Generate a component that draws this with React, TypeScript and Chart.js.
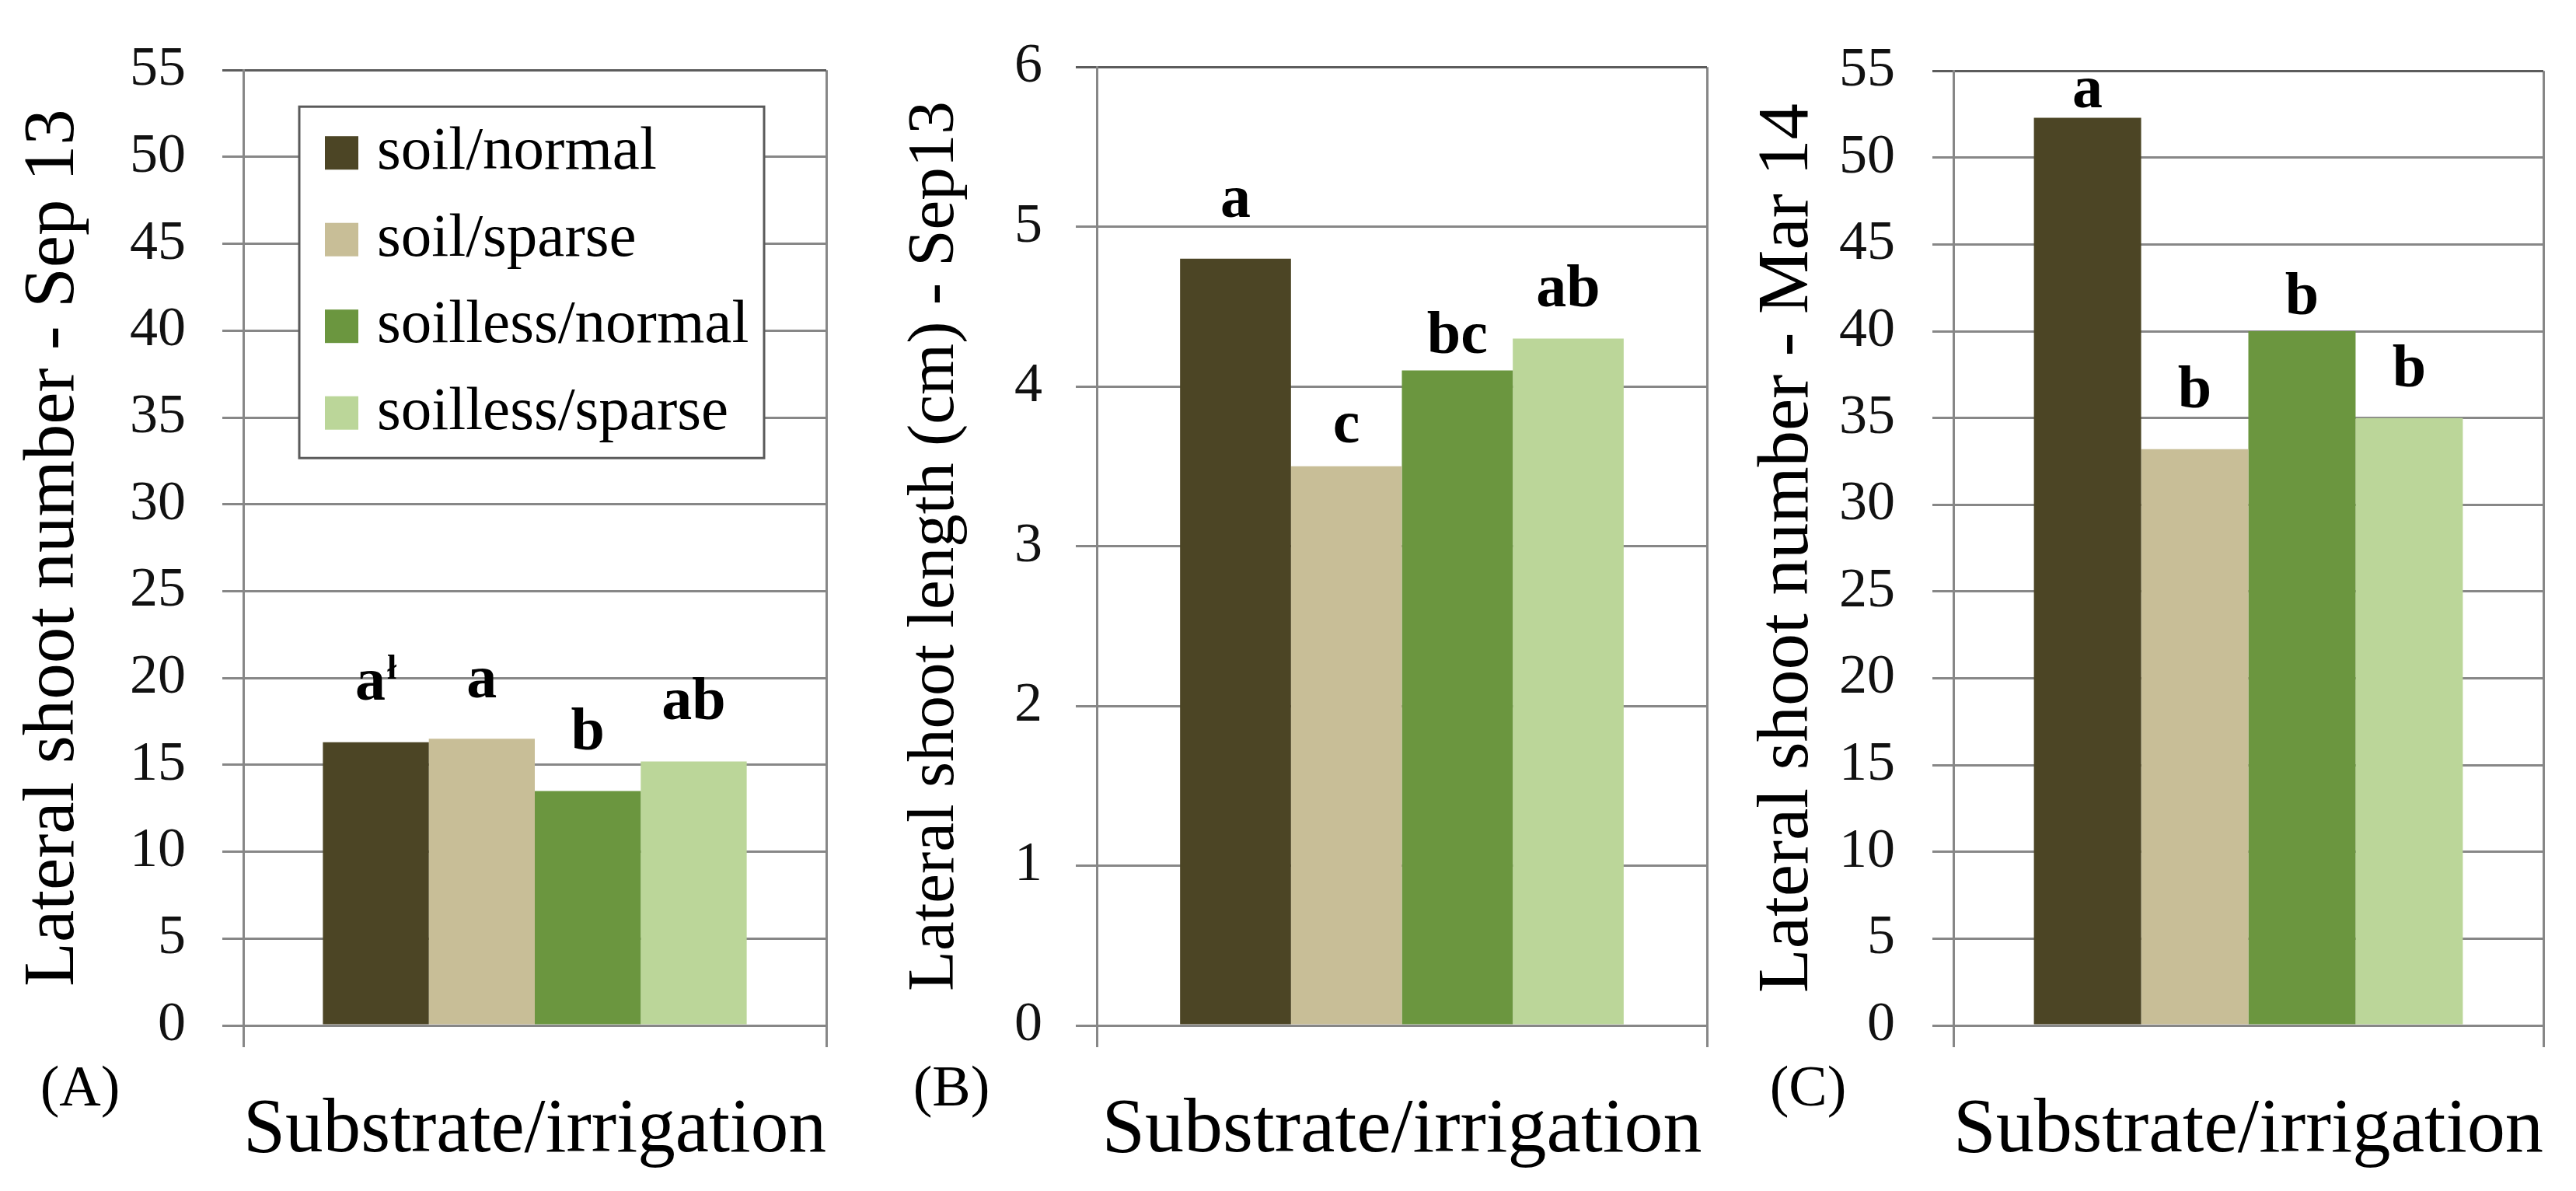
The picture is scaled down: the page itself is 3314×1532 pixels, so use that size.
import React, { useEffect, useRef } from 'react';
import { Chart, registerables } from 'chart.js';

Chart.register(...registerables);

const SERIF = '"Liberation Serif", "Times New Roman", serif';

// Treatments (substrate/irrigation) and their fill colours
const treatments = ['soil/normal', 'soil/sparse', 'soilless/normal', 'soilless/sparse'];
const treatmentColors = ['#4c4525', '#c8be97', '#6b963f', '#bbd699'];
const xAxisLabel = 'Substrate/irrigation';

// (A) lateral shoot number, Sep 13
const shootNumberSep13 = [16.3, 16.5, 13.5, 15.2];
const lettersSep13 = ['a', 'a', 'b', 'ab'];
const footnoteSep13 = ['ł', '', '', ''];
const letterLevelSep13 = [18.76, 18.89, 15.9, 17.62];

// (B) lateral shoot length (cm), Sep 13
const shootLengthSep13 = [4.8, 3.5, 4.1, 4.3];
const lettersLengthSep13 = ['a', 'c', 'bc', 'ab'];
const letterLevelLengthSep13 = [5.06, 3.65, 4.21, 4.5];

// (C) lateral shoot number, Mar 14
const shootNumberMar14 = [52.3, 33.2, 40.0, 35.0];
const lettersMar14 = ['a', 'b', 'b', 'b'];
const letterLevelMar14 = [52.9, 35.6, 41.0, 36.8];

// Value axes
const countAxisMax = 55;
const countAxisStep = 5;
const lengthAxisMax = 6;
const lengthAxisStep = 1;

const PAGE_W = 3314;
const PAGE_H = 1532;
const GRID = '#878787';
const FRAME_TOP = '#5c5c5c';

type PanelSpec = {
  tag: string;
  yTitle: string;
  yTitleSize: number;
  yTitlePad: number;
  values: number[];
  letters: string[];
  marks?: string[];
  levels: number[];
  max: number;
  step: number;
  left: number;
  width: number;
  yWidth: number;
  padRight: number;
  tickPad: number;
  tagX: number;
  legend: boolean;
};

const panels: PanelSpec[] = [
  {
    tag: '(A)',
    yTitle: 'Lateral shoot number - Sep 13',
    yTitleSize: 93,
    yTitlePad: 23,
    values: shootNumberSep13,
    letters: lettersSep13,
    marks: footnoteSep13,
    levels: letterLevelSep13,
    max: countAxisMax,
    step: countAxisStep,
    left: 0,
    width: 1120,
    yWidth: 313,
    padRight: 57,
    tickPad: 47,
    tagX: 103,
    legend: true,
  },
  {
    tag: '(B)',
    yTitle: 'Lateral shoot length (cm) - Sep13',
    yTitleSize: 85,
    yTitlePad: 41,
    values: shootLengthSep13,
    letters: lettersLengthSep13,
    levels: letterLevelLengthSep13,
    max: lengthAxisMax,
    step: lengthAxisStep,
    left: 1120,
    width: 1120,
    yWidth: 291,
    padRight: 44,
    tickPad: 43,
    tagX: 104,
    legend: false,
  },
  {
    tag: '(C)',
    yTitle: 'Lateral shoot number - Mar 14',
    yTitleSize: 93,
    yTitlePad: 14,
    values: shootNumberMar14,
    letters: lettersMar14,
    levels: letterLevelMar14,
    max: countAxisMax,
    step: countAxisStep,
    left: 2240,
    width: 1074,
    yWidth: 273,
    padRight: 42,
    tickPad: 48,
    tagX: 86,
    legend: false,
  },
];

// Significance letters above the bars, the panel tag and the boxed legend
const panelDecor = {
  id: 'panelDecor',
  afterDraw(chart: any, _args: any, opts: any) {
    const { ctx, chartArea } = chart;
    const yScale = chart.scales.y;
    ctx.save();
    ctx.fillStyle = '#000';
    ctx.textBaseline = 'alphabetic';
    ctx.textAlign = 'left';

    chart.data.datasets.forEach((_ds: any, i: number) => {
      const bar = chart.getDatasetMeta(i).data[0];
      const text = opts.letters[i];
      const mark = (opts.marks && opts.marks[i]) || '';
      const yPix = yScale.getPixelForValue(opts.levels[i]);
      ctx.font = `bold 78px ${SERIF}`;
      const w = ctx.measureText(text).width;
      ctx.font = `bold 44px ${SERIF}`;
      const mw = mark ? ctx.measureText(mark).width + 2 : 0;
      const x0 = bar.x - (w + mw) / 2;
      ctx.font = `bold 78px ${SERIF}`;
      ctx.fillText(text, x0, yPix);
      if (mark) {
        ctx.font = `bold 44px ${SERIF}`;
        ctx.fillText(mark, x0 + w + 2, yPix - 27);
      }
    });

    ctx.font = `74px ${SERIF}`;
    ctx.textAlign = 'center';
    ctx.textBaseline = 'middle';
    ctx.fillText(opts.tag, opts.tagX, 1403);

    if (opts.legend) {
      const bx = chartArea.left + 72;
      const by = chartArea.top + 47;
      const bw = 598;
      const bh = 452;
      ctx.fillStyle = '#fff';
      ctx.fillRect(bx, by, bw, bh);
      ctx.strokeStyle = '#5a5a5a';
      ctx.lineWidth = 3;
      ctx.strokeRect(bx, by, bw, bh);
      ctx.font = `79px ${SERIF}`;
      ctx.textAlign = 'left';
      ctx.textBaseline = 'alphabetic';
      chart.data.datasets.forEach((ds: any, i: number) => {
        const top = by + 38 + i * 111.5;
        ctx.fillStyle = ds.backgroundColor;
        ctx.fillRect(bx + 33, top, 43, 43);
        ctx.fillStyle = '#000';
        ctx.fillText(ds.label, bx + 100, top + 42);
      });
    }
    ctx.restore();
  },
};

function Panel({ spec }: { spec: PanelSpec }) {
  const ref = useRef<HTMLCanvasElement>(null);

  useEffect(() => {
    const canvas = ref.current;
    if (!canvas) return;
    const chart = new Chart(canvas, {
      type: 'bar',
      data: {
        labels: [xAxisLabel],
        datasets: treatments.map((name, i) => ({
          label: name,
          data: [spec.values[i]],
          backgroundColor: treatmentColors[i],
          borderWidth: 0,
          categoryPercentage: 0.727,
          barPercentage: 1,
        })),
      },
      options: {
        responsive: false,
        animation: false,
        devicePixelRatio: 1,
        layout: { padding: { left: 0, right: spec.padRight, top: 67, bottom: 0 } },
        plugins: {
          legend: { display: false },
          tooltip: { enabled: false },
          panelDecor: {
            letters: spec.letters,
            marks: spec.marks,
            levels: spec.levels,
            tag: spec.tag,
            tagX: spec.tagX,
            legend: spec.legend,
          },
        } as any,
        scales: {
          x: {
            type: 'category',
            offset: true,
            grid: { offset: true, color: GRID, lineWidth: 3, tickLength: 28, drawTicks: true },
            border: { color: GRID, width: 3 },
            ticks: { display: false },
            title: {
              display: true,
              text: xAxisLabel,
              color: '#000',
              font: { family: SERIF, size: 100, lineHeight: 1 },
              padding: { top: 0, bottom: 27 },
            },
            afterFit: (s: any) => {
              s.height = 213;
            },
          },
          y: {
            min: 0,
            max: spec.max,
            ticks: {
              stepSize: spec.step,
              color: '#111',
              padding: spec.tickPad,
              font: { family: SERIF, size: 72 },
            },
            grid: {
              color: (c: any) => (c.tick && c.tick.value === spec.max ? FRAME_TOP : GRID),
              lineWidth: 3,
              tickLength: 27,
            },
            border: { color: GRID, width: 3 },
            title: {
              display: true,
              text: spec.yTitle,
              color: '#000',
              font: { family: SERIF, size: spec.yTitleSize, lineHeight: 1 },
              padding: { top: spec.yTitlePad, bottom: 0 },
            },
            afterFit: (s: any) => {
              s.width = spec.yWidth;
            },
          },
        },
      } as any,
      plugins: [panelDecor as any],
    });
    return () => chart.destroy();
  }, [spec]);

  return (
    <canvas
      ref={ref}
      width={spec.width}
      height={PAGE_H}
      style={{ position: 'absolute', left: spec.left, top: 0, width: spec.width, height: PAGE_H, display: 'block' }}
    />
  );
}

export default function App() {
  return (
    <div
      style={{
        position: 'absolute',
        left: 0,
        top: 0,
        width: PAGE_W,
        height: PAGE_H,
        background: '#fff',
        overflow: 'hidden',
      }}
    >
      {panels.map((p) => (
        <Panel key={p.tag} spec={p} />
      ))}
    </div>
  );
}
